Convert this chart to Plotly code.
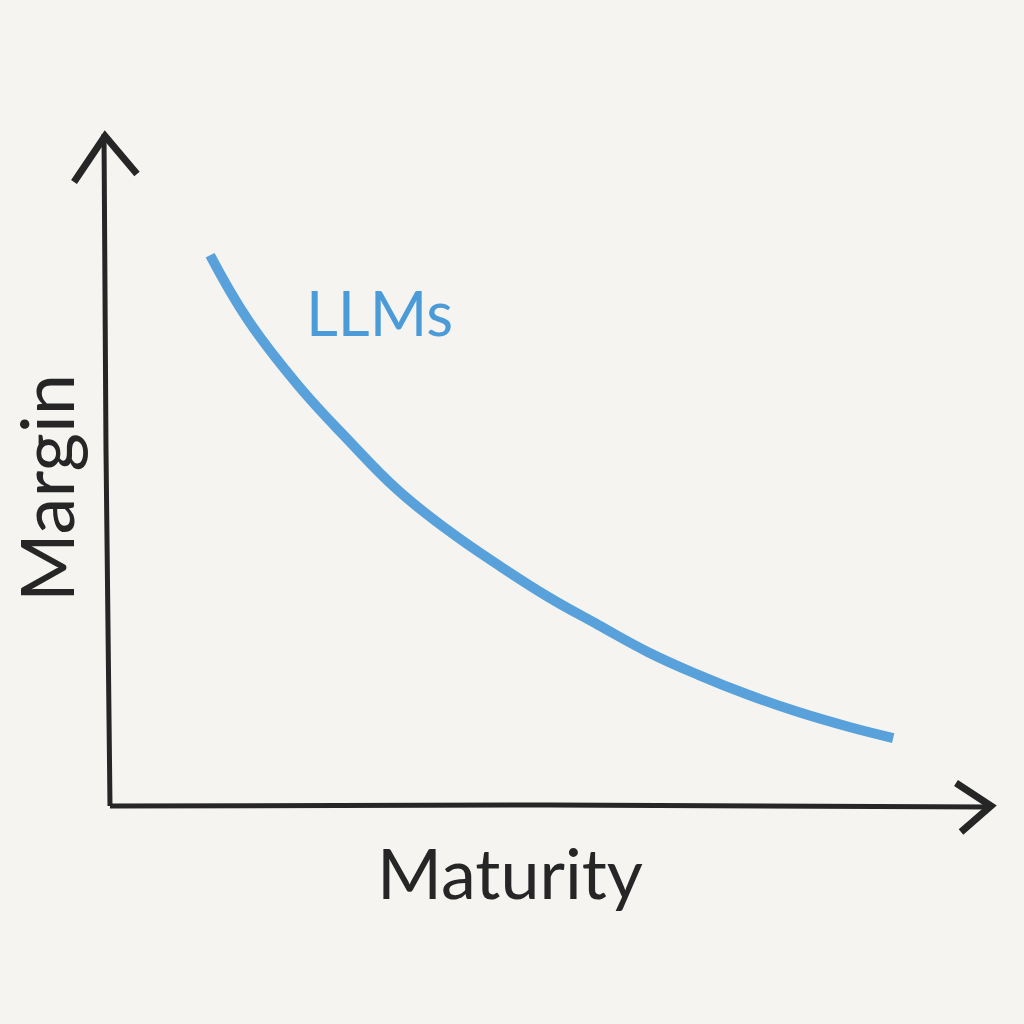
import plotly.graph_objects as go

# Data (arbitrary units: Maturity 0-10, Margin 0-10)
maturity = [1.14, 1.57, 2.14, 2.71, 3.28, 3.85, 4.42, 4.99, 5.56, 6.13, 6.70, 7.27, 7.84, 8.41, 8.92]
margin = [8.27, 7.30, 6.32, 5.50, 4.74, 4.14, 3.62, 3.14, 2.72, 2.31, 1.97, 1.67, 1.41, 1.19, 1.02]
series_name = "LLMs"
x_title = "Maturity"
y_title = "Margin"

PX_X = 87.8   # px per x unit
PX_Y = 66.6   # px per y unit
OX, OY = 110, 806  # origin in px

def dx(px):
    return (px - OX) / PX_X

def dy(py):
    return (OY - py) / PX_Y

ink = "#262626"
blue = "#4c9bd9"
bg = "#f5f4f0"

fig = go.Figure()

# axes (hand drawn look)
fig.add_trace(go.Scatter(x=[dx(104), dx(106), dx(110)], y=[dy(134), dy(450), dy(806)],
                         mode="lines", line=dict(color=ink, width=5, shape="spline"),
                         hoverinfo="skip", showlegend=False))
fig.add_trace(go.Scatter(x=[dx(110), dx(550), dx(990)], y=[dy(806), dy(805), dy(807)],
                         mode="lines", line=dict(color=ink, width=5, shape="spline"),
                         hoverinfo="skip", showlegend=False))
# arrow heads
fig.add_trace(go.Scatter(x=[dx(74), dx(105), dx(137)], y=[dy(182), dy(136), dy(174)],
                         mode="lines", line=dict(color=ink, width=7, shape="linear"),
                         hoverinfo="skip", showlegend=False))
fig.add_trace(go.Scatter(x=[dx(956), dx(991), dx(961)], y=[dy(783), dy(806), dy(832)],
                         mode="lines", line=dict(color=ink, width=7, shape="linear"),
                         hoverinfo="skip", showlegend=False))

# curve
fig.add_trace(go.Scatter(x=maturity, y=margin, mode="lines", name=series_name,
                         line=dict(color=blue, width=10, shape="spline", smoothing=1.2),
                         opacity=0.92, showlegend=False))

fig.add_annotation(x=dx(379), y=dy(312), text=series_name, showarrow=False,
                   font=dict(family="Lato", size=62, color=blue))
fig.add_annotation(x=dx(510), y=dy(872), text=x_title, showarrow=False,
                   font=dict(family="Lato", size=70, color=ink))
fig.add_annotation(x=dx(45), y=dy(488), text=y_title, showarrow=False, textangle=-90,
                   font=dict(family="Lato", size=74, color=ink))

fig.update_layout(
    width=1024, height=1024,
    margin=dict(l=0, r=0, t=0, b=0),
    paper_bgcolor=bg, plot_bgcolor=bg,
    xaxis=dict(range=[dx(0), dx(1024)], visible=False, fixedrange=True),
    yaxis=dict(range=[dy(1024), dy(0)], visible=False, fixedrange=True),
)

fig.write_html("out.html", config={"displayModeBar": False},
               post_script="document.body.style.margin='0';document.body.style.background='%s';" % bg)
